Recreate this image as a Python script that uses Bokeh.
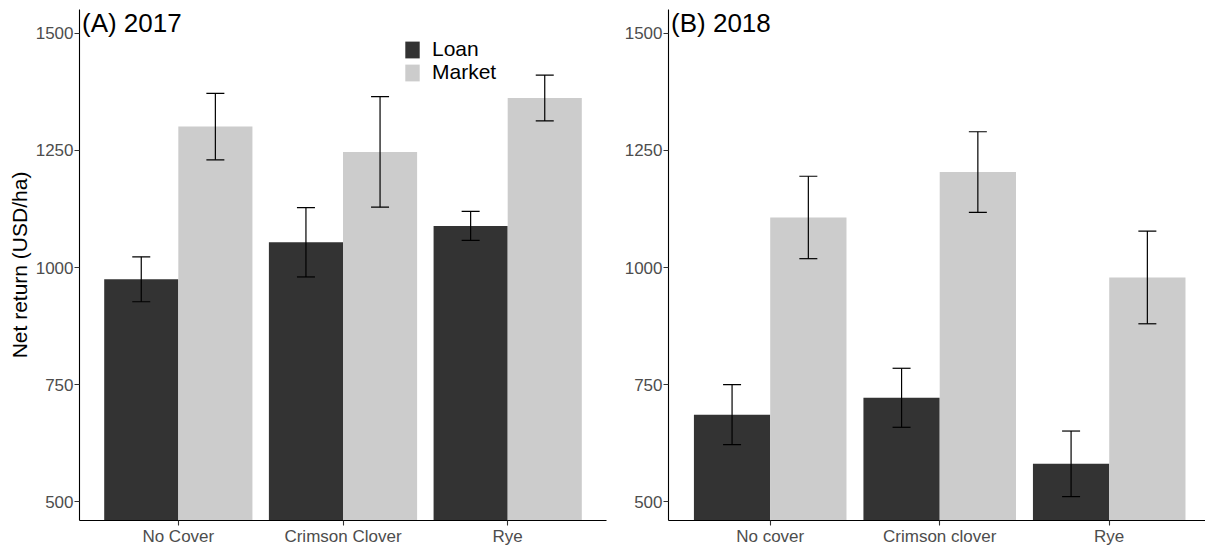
import numpy as np
from bokeh.plotting import figure
from bokeh.models import (ColumnDataSource, FixedTicker, Whisker, TeeHead, Label,
                          Legend, LegendItem)
from bokeh.layouts import row
from bokeh.embed import file_html
from bokeh.resources import INLINE

# ---------------- data ----------------
categories_2017 = ["No Cover", "Crimson Clover", "Rye"]
categories_2018 = ["No cover", "Crimson clover", "Rye"]
series = ["Loan", "Market"]

loan_2017 = [975, 1054, 1089]
loan_err_2017 = [48, 74, 31]
market_2017 = [1301, 1247, 1362]
market_err_2017 = [71, 118, 49]

loan_2018 = [686, 722, 581]
loan_err_2018 = [64, 63, 70]
market_2018 = [1107, 1204, 979]
market_err_2018 = [88, 86, 99]

y_ticks = [500, 750, 1000, 1250, 1500]
colors = ["#333333", "#CCCCCC"]

FONT = "Liberation Sans"
BAR_W = 0.45
DODGE = 0.225
H = 548


def make_panel(cats, loan, loan_err, market, market_err, title, x_end,
               width, border_left, border_right, ylabel, legend):
    idx = np.arange(1, len(cats) + 1)
    p = figure(width=width, height=H, x_range=(0.4, x_end), y_range=(460, 1551),
               output_backend="svg", toolbar_location=None,
               min_border_left=border_left, min_border_right=border_right,
               min_border_top=9, min_border_bottom=22)
    p.xgrid.visible = False
    p.ygrid.visible = False
    p.outline_line_color = None
    p.background_fill_color = "white"

    renderers = []
    for k, (vals, errs) in enumerate([(loan, loan_err), (market, market_err)]):
        vals = np.asarray(vals, dtype=float)
        errs = np.asarray(errs, dtype=float)
        xs = idx + (-DODGE if k == 0 else DODGE)
        src = ColumnDataSource(dict(x=xs, top=vals, upper=vals + errs, lower=vals - errs))
        r = p.vbar(x="x", top="top", bottom=0, width=BAR_W, source=src,
                   fill_color=colors[k], line_color=None)
        renderers.append(r)
        w = Whisker(source=src, base="x", upper="upper", lower="lower",
                    line_color="black", line_width=1.2, level="overlay",
                    upper_head=TeeHead(size=18, line_color="black", line_width=1.2),
                    lower_head=TeeHead(size=18, line_color="black", line_width=1.2))
        p.add_layout(w)

    # axes
    p.xaxis.ticker = FixedTicker(ticks=list(idx))
    p.xaxis.major_label_overrides = {int(i): c for i, c in zip(idx, cats)}
    p.yaxis.ticker = FixedTicker(ticks=y_ticks)
    for ax in (p.xaxis[0], p.yaxis[0]):
        ax.axis_line_color = "black"
        ax.axis_line_width = 1.1
        ax.major_tick_line_color = "#333333"
        ax.major_tick_line_width = 1.1
        ax.major_tick_in = 0
        ax.major_tick_out = 5
        ax.minor_tick_line_color = None
        ax.major_label_text_font = FONT
        ax.major_label_text_font_size = "17px"
        ax.major_label_text_color = "#4D4D4D"
        ax.major_label_standoff = 1
    if ylabel:
        p.yaxis.axis_label = ylabel
        p.yaxis.axis_label_text_font = FONT
        p.yaxis.axis_label_text_font_size = "21px"
        p.yaxis.axis_label_text_font_style = "normal"
        p.yaxis.axis_label_text_color = "black"
        p.yaxis.axis_label_standoff = 2

    p.add_layout(Label(x=0.415, y=1523, text=title, text_font=FONT,
                       text_font_size="26px", text_color="black",
                       text_align="left", text_baseline="middle"))

    if legend:
        # one legend box per key so that the rows sit as tightly as in the reference
        for k, yloc in enumerate([459, 436]):
            lg = Legend(items=[LegendItem(label=series[k], renderers=[renderers[k]])],
                        location=(324, yloc), orientation="vertical",
                        label_text_font=FONT, label_text_font_size="21px",
                        label_text_color="black",
                        glyph_width=18, glyph_height=21, label_height=20,
                        label_standoff=11, spacing=0, padding=0, margin=0,
                        border_line_color=None, background_fill_alpha=0)
            p.add_layout(lg)
    return p


p1 = make_panel(categories_2017, loan_2017, loan_err_2017, market_2017, market_err_2017,
                "(A) 2017", 3.6, 620, 79, 14, "Net return (USD/ha)", True)
p2 = make_panel(categories_2018, loan_2018, loan_err_2018, market_2018, market_err_2018,
                "(B) 2018", 3.568, 585, 48, 0, None, False)

layout = row(p1, p2)
open("out.html", "w").write(file_html(layout, INLINE))
